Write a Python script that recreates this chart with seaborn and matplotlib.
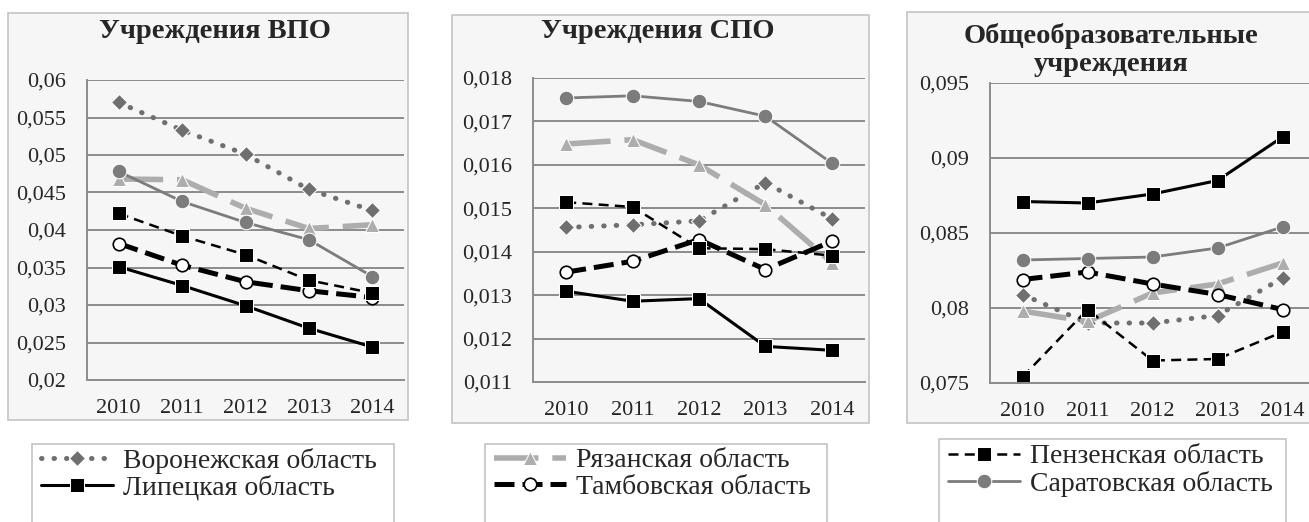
import numpy as np
import matplotlib
matplotlib.use("Agg")
import matplotlib.pyplot as plt
import seaborn as sns
from matplotlib.patches import Rectangle
from matplotlib.ticker import FuncFormatter, FixedLocator

years = ["2010", "2011", "2012", "2013", "2014"]
regions = ["Воронежская область", "Липецкая область", "Рязанская область",
           "Тамбовская область", "Пензенская область", "Саратовская область"]

# Учреждения ВПО
vpo_voronezh = [0.0570, 0.0533, 0.0501, 0.0454, 0.0426]
vpo_lipetsk = [0.0351, 0.0326, 0.0299, 0.0269, 0.0244]
vpo_ryazan = [0.0468, 0.0467, 0.0429, 0.0402, 0.0407]
vpo_tambov = [0.0382, 0.0353, 0.0331, 0.0319, 0.0310]
vpo_penza = [0.0422, 0.0392, 0.0367, 0.0333, 0.0316]
vpo_saratov = [0.0478, 0.0438, 0.0410, 0.0387, 0.0338]

# Учреждения СПО
spo_voronezh = [0.01456, 0.01462, 0.01471, 0.01559, 0.01476]
spo_lipetsk = [0.01309, 0.01286, 0.01292, 0.01182, 0.01173]
spo_ryazan = [0.01648, 0.01658, 0.01600, 0.01508, 0.01375]
spo_tambov = [0.01353, 0.01378, 0.01428, 0.01359, 0.01424]
spo_penza = [0.01514, 0.01503, 0.01408, 0.01406, 0.01391]
spo_saratov = [0.01754, 0.01759, 0.01746, 0.01712, 0.01604]

# Общеобразовательные учреждения
obr_voronezh = [0.0809, 0.0790, 0.0790, 0.0795, 0.0820]
obr_lipetsk = [0.0871, 0.0870, 0.0876, 0.0885, 0.0914]
obr_ryazan = [0.0798, 0.0791, 0.0810, 0.0816, 0.0830]
obr_tambov = [0.0819, 0.0824, 0.0816, 0.0809, 0.0799]
obr_penza = [0.0754, 0.0799, 0.0765, 0.0766, 0.0784]
obr_saratov = [0.0832, 0.0833, 0.0834, 0.0840, 0.0854]

sns.set_style("white")
plt.rcParams["font.family"] = ["Liberation Serif", "DejaVu Serif"]

W, H = 1309, 522
GRID = "#8c8c8c"

styles = {
    "Воронежская область": dict(color="#6f6f6f", linestyle=(0, (0.1, 2.4)), lw=3.6,
                                dash_capstyle="round", marker="D", markersize=8.5),
    "Липецкая область": dict(color="black", linestyle="-", lw=2.2, marker="s", markersize=10),
    "Рязанская область": dict(color="#adadad", linestyle=(0, (8, 2.5)), lw=4,
                              marker="^", markersize=10.5),
    "Тамбовская область": dict(color="black", linestyle=(0, (4, 1.6)), lw=3.6, marker="o",
                               markersize=9, markerfacecolor="white", markeredgecolor="black",
                               markeredgewidth=1.2),
    "Пензенская область": dict(color="black", linestyle=(0, (4, 2.5)), lw=1.8,
                               marker="s", markersize=10),
    "Саратовская область": dict(color="#7c7c7c", linestyle="-", lw=2.0, marker="o",
                                markersize=10.5),
}

panels = [
    dict(title="Учреждения ВПО", data=[vpo_voronezh, vpo_lipetsk, vpo_ryazan,
                                       vpo_tambov, vpo_penza, vpo_saratov],
         ylim=(0.02, 0.06), yticks=np.linspace(0.02, 0.06, 9),
         box=(8, 13, 408, 420), axes=(87, 80, 404, 380), title_xy=(215, 31),
         legend_box=(32, 444, 394, 530), legend_xy=(38, 445), legend_items=[0, 1]),
    dict(title="Учреждения СПО", data=[spo_voronezh, spo_lipetsk, spo_ryazan,
                                       spo_tambov, spo_penza, spo_saratov],
         ylim=(0.011, 0.018), yticks=np.linspace(0.011, 0.018, 8),
         box=(452, 15, 869, 423), axes=(533, 78, 865, 382), title_xy=(658, 31),
         legend_box=(485, 444, 827, 530), legend_xy=(491, 445), legend_items=[2, 3]),
    dict(title="Общеобразовательные\nучреждения", data=[obr_voronezh, obr_lipetsk, obr_ryazan,
                                                       obr_tambov, obr_penza, obr_saratov],
         ylim=(0.075, 0.095), yticks=np.linspace(0.075, 0.095, 5),
         box=(907, 12, 1330, 423), axes=(990, 83, 1315, 383), title_xy=(1111, 50),
         legend_box=(939, 439, 1286, 530), legend_xy=(945, 441), legend_items=[4, 5]),
]

fig = plt.figure(figsize=(W / 100, H / 100), dpi=100)

fmt = FuncFormatter(lambda v, _: f"{v:g}".replace(".", ","))
x_idx = np.arange(len(years))

for p in panels:
    x0, y0, x1, y1 = p["box"]
    fig.patches.append(Rectangle((x0 / W, 1 - y1 / H), (x1 - x0) / W, (y1 - y0) / H,
                                 transform=fig.transFigure, facecolor="#f6f6f6",
                                 edgecolor="#c4c4c4", lw=1.2, zorder=-2))
    lx0, ly0, lx1, ly1 = p["legend_box"]
    fig.patches.append(Rectangle((lx0 / W, 1 - ly1 / H), (lx1 - lx0) / W, (ly1 - ly0) / H,
                                 transform=fig.transFigure, facecolor="white",
                                 edgecolor="#c4c4c4", lw=1.2, zorder=-2))

    ax_l, ax_t, ax_r, ax_b = p["axes"]
    ax = fig.add_axes([ax_l / W, 1 - ax_b / H, (ax_r - ax_l) / W, (ax_b - ax_t) / H])
    ax.set_facecolor("none")

    for name, vals in zip(regions, p["data"]):
        sns.lineplot(x=x_idx, y=vals, ax=ax, label=name, **styles[name])

    ax.set_xlim(-0.5, 4.5)
    ax.set_ylim(*p["ylim"])
    ax.set_xticks(x_idx)
    ax.set_xticklabels(years)
    ax.xaxis.set_minor_locator(FixedLocator(np.arange(-0.5, 5, 1)))
    ax.set_yticks(p["yticks"])
    ax.yaxis.set_major_formatter(fmt)
    ax.tick_params(axis="x", which="major", length=0, pad=14, labelsize=16)
    ax.tick_params(axis="x", which="minor", length=6, width=1.3, color=GRID, direction="out")
    ax.tick_params(axis="y", length=5, width=1.3, color=GRID, direction="out", pad=10,
                   labelsize=16)
    ax.yaxis.grid(True, color=GRID, lw=1.4)
    ax.xaxis.grid(False)
    for s in ["top", "right"]:
        ax.spines[s].set_visible(False)
    for s in ["left", "bottom"]:
        ax.spines[s].set_color(GRID)
        ax.spines[s].set_linewidth(1.4)
    ax.set_xlabel("")
    ax.set_ylabel("")

    handles, labels = ax.get_legend_handles_labels()
    ax.get_legend().remove()
    tx, ty = p["title_xy"]
    fig.text(tx / W, 1 - ty / H, p["title"], ha="center", va="center", fontsize=20.5,
             fontweight="bold", linespacing=1.2)

    lx, ly = p["legend_xy"]
    fig.legend([handles[i] for i in p["legend_items"]], [labels[i] for i in p["legend_items"]],
               loc="upper left", bbox_to_anchor=(lx / W, 1 - ly / H), frameon=False,
               fontsize=20, handlelength=2.6, handletextpad=0.35, borderpad=0.1,
               labelspacing=0.05, borderaxespad=0)

fig.savefig("out.png", dpi=100)
